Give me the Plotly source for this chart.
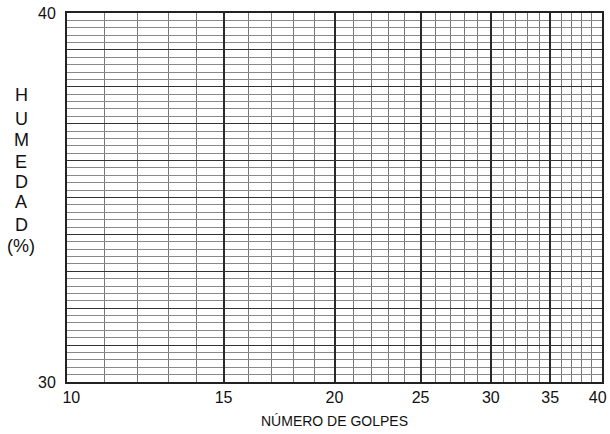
import plotly.graph_objects as go
import math

# Data / axis definitions
x_range = [10, 40]
y_range = [30, 40]
x_major_ticks = [10, 15, 20, 25, 30, 35, 40]
x_tick_labels = ["\u200210", "15", "20", "25", "30", "35", "40\u2002"]
x_minor_ticks = list(range(10, 41))
y_major_ticks = list(range(30, 41))
y_tick_labels = ["30"] + [""] * 9 + ["40"]
y_minor_step = 0.2
x_title = "NÚMERO DE GOLPES"
y_title_letters = ["H", "U", "M", "E", "D", "A", "D", "(%)"]

FONT = "Liberation Sans, Arial, sans-serif"
W, H = 610, 434
L, R, T, B = 67, 8, 13, 52
plot_h = H - T - B
plot_w = W - L - R

fig = go.Figure()
fig.add_trace(go.Scatter(x=x_range, y=y_range, mode="markers",
                         marker=dict(opacity=0), showlegend=False, hoverinfo="skip"))

fig.update_layout(
    width=W, height=H,
    margin=dict(l=L, r=R, t=T, b=B, autoexpand=False),
    paper_bgcolor="white", plot_bgcolor="white",
    font=dict(family=FONT, color="#111", size=15),
    showlegend=False,
)

fig.update_xaxes(
    type="log", automargin=False,
    range=[math.log10(x_range[0]) - 0.0003, math.log10(x_range[1]) + 0.0003],
    tickmode="array", tickvals=x_major_ticks, ticktext=x_tick_labels,
    ticklabeloverflow="allow",
    showgrid=True, gridcolor="#2a2a2a", gridwidth=1.5,
    ticks="",
    showline=True, linecolor="#222", linewidth=2, mirror=True,
    tickfont=dict(size=16, family=FONT, color="#111"),
    minor=dict(tickmode="array", tickvals=x_minor_ticks, showgrid=True,
               gridcolor="#777", gridwidth=1, ticks=""),
    zeroline=False,
)
fig.update_yaxes(
    range=y_range, automargin=False,
    tickmode="array", tickvals=y_major_ticks, ticktext=y_tick_labels,
    ticklabeloverflow="allow",
    showgrid=True, gridcolor="#333", gridwidth=1.3,
    ticks="outside", ticklen=6, tickcolor="rgba(0,0,0,0)",
    showline=True, linecolor="#222", linewidth=2, mirror=True,
    tickfont=dict(size=16, family=FONT, color="#111"),
    minor=dict(dtick=y_minor_step, showgrid=True, gridcolor="#888", gridwidth=1, ticks=""),
    zeroline=False,
)

# Vertical stacked y title (page pixel centres)
y_centers = [95, 119, 140, 162, 182, 202, 225, 246]
for letter, py in zip(y_title_letters, y_centers):
    fig.add_annotation(
        text=letter, xref="paper", yref="paper",
        x=(21 - L) / plot_w, y=(H - B - py) / plot_h,
        xanchor="center", yanchor="middle", showarrow=False,
        font=dict(size=18, family=FONT, color="#111"),
    )

fig.add_annotation(
    text=x_title, xref="paper", yref="paper",
    x=(334 - L) / plot_w, y=(H - B - 421) / plot_h,
    xanchor="center", yanchor="middle", showarrow=False,
    font=dict(size=14, family=FONT, color="#111"),
)

fig.write_html("out.html",
               config={"displayModeBar": False},
               post_script="document.body.style.margin='0';")
